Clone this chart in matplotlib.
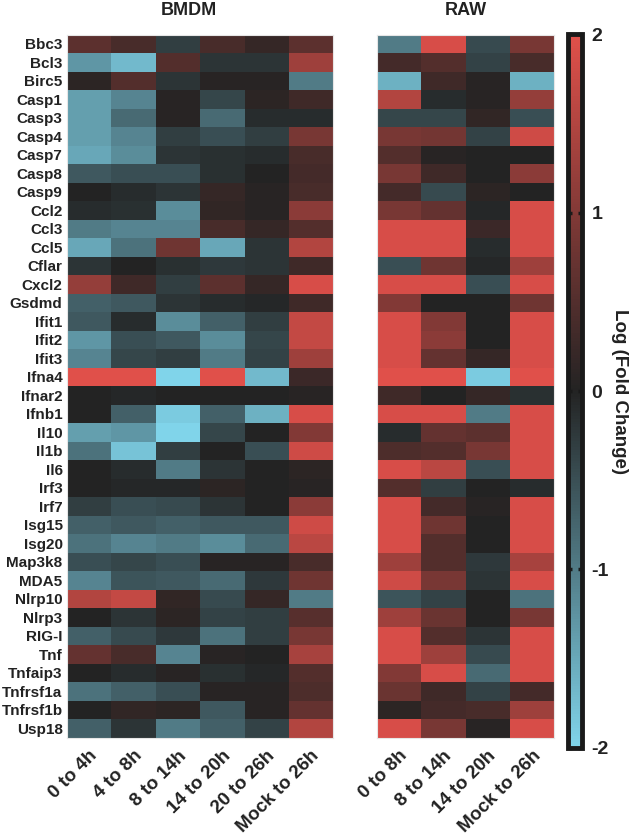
import numpy as np
import matplotlib
matplotlib.use("Agg")
import matplotlib.pyplot as plt
from matplotlib.colors import LinearSegmentedColormap

plt.rcParams['font.family'] = ['Liberation Sans', 'DejaVu Sans']
plt.rcParams['font.weight'] = 'bold'
plt.rcParams['axes.unicode_minus'] = False

genes = ["Bbc3", "Bcl3", "Birc5", "Casp1", "Casp3", "Casp4", "Casp7", "Casp8",
         "Casp9", "Ccl2", "Ccl3", "Ccl5", "Cflar", "Cxcl2", "Gsdmd", "Ifit1",
         "Ifit2", "Ifit3", "Ifna4", "Ifnar2", "Ifnb1", "Il10", "Il1b", "Il6",
         "Irf3", "Irf7", "Isg15", "Isg20", "Map3k8", "MDA5", "Nlrp10", "Nlrp3",
         "RIG-I", "Tnf", "Tnfaip3", "Tnfrsf1a", "Tnfrsf1b", "Usp18"]

bmdm_cols = ["0 to 4h", "4 to 8h", "8 to 14h", "14 to 20h", "20 to 26h", "Mock to 26h"]
raw_cols = ["0 to 8h", "8 to 14h", "14 to 20h", "Mock to 26h"]

# log fold change
bmdm = [
    [0.6, 0.4, -0.3, 0.4, 0.2, 0.6],
    [-1.3, -1.7, 0.5, -0.2, -0.2, 1.3],
    [0.1, 0.5, -0.2, 0.05, 0.05, -1.0],
    [-1.4, -1.1, 0.05, -0.4, 0.1, 0.3],
    [-1.4, -0.8, 0.05, -0.8, -0.1, -0.1],
    [-1.4, -1.1, -0.3, -0.5, -0.3, 0.9],
    [-1.5, -1.2, -0.2, -0.15, -0.1, 0.4],
    [-0.6, -0.5, -0.5, -0.15, 0.0, 0.35],
    [0.0, -0.1, -0.2, 0.2, 0.05, 0.4],
    [-0.1, -0.15, -1.2, 0.15, 0.05, 1.1],
    [-1.0, -1.1, -1.1, 0.4, 0.2, 0.5],
    [-1.5, -0.9, 0.8, -1.5, -0.2, 1.5],
    [-0.2, 0.0, -0.15, -0.25, -0.2, 0.3],
    [1.2, 0.3, -0.3, 0.6, 0.2, 1.9],
    [-0.7, -0.6, -0.2, -0.1, -0.05, 0.3],
    [-0.6, -0.1, -1.2, -0.7, -0.3, 1.7],
    [-1.3, -0.5, -0.6, -1.2, -0.4, 1.7],
    [-1.1, -0.4, -0.3, -1.0, -0.35, 1.3],
    [2.0, 2.0, -2.0, 2.0, -1.7, 0.25],
    [0.0, -0.05, 0.0, 0.0, 0.0, 0.05],
    [0.0, -0.7, -1.9, -0.7, -1.6, 1.9],
    [-1.4, -1.3, -2.0, -0.4, 0.0, 1.0],
    [-0.9, -1.8, -0.3, 0.0, -0.5, 1.8],
    [0.0, -0.1, -1.0, -0.2, 0.0, 0.1],
    [0.0, -0.05, -0.05, 0.1, 0.0, 0.05],
    [-0.3, -0.5, -0.45, -0.2, 0.0, 1.1],
    [-0.7, -0.6, -0.7, -0.6, -0.6, 1.8],
    [-0.9, -1.1, -1.0, -1.2, -0.8, 1.6],
    [-0.5, -0.4, -0.5, 0.05, 0.05, 0.4],
    [-1.1, -0.55, -0.6, -0.8, -0.25, 0.8],
    [1.5, 1.7, 0.15, -0.45, 0.2, -1.0],
    [0.0, -0.2, 0.1, -0.35, -0.3, 0.55],
    [-0.7, -0.45, -0.25, -0.9, -0.3, 0.9],
    [0.7, 0.4, -1.1, 0.05, 0.0, 1.4],
    [0.0, -0.1, 0.05, -0.15, -0.05, 0.5],
    [-0.9, -0.7, -0.5, 0.05, 0.05, 0.45],
    [0.0, 0.15, 0.1, -0.6, 0.05, 0.7],
    [-0.7, -0.2, -1.0, -0.7, -0.35, 1.5],
]

raw = [
    [-1.0, 1.9, -0.45, 0.9],
    [0.35, 0.5, -0.35, 0.4],
    [-1.6, 0.3, 0.05, -1.6],
    [1.5, -0.1, 0.05, 1.2],
    [-0.4, -0.4, 0.15, -0.5],
    [0.9, 0.85, -0.35, 1.8],
    [0.5, 0.05, 0.0, 0.0],
    [0.9, 0.3, 0.0, 1.1],
    [0.35, -0.45, 0.1, 0.0],
    [0.9, 0.7, -0.05, 1.9],
    [1.9, 1.9, 0.25, 1.9],
    [1.9, 1.9, -0.1, 1.9],
    [-0.5, 0.8, -0.05, 1.3],
    [1.9, 1.9, -0.5, 1.9],
    [1.0, 0.0, 0.0, 0.8],
    [1.9, 1.0, 0.0, 1.9],
    [1.9, 1.1, 0.0, 1.9],
    [1.9, 0.7, 0.2, 1.9],
    [2.0, 2.0, -1.9, 2.0],
    [0.3, 0.0, 0.2, -0.15],
    [1.9, 1.9, -1.0, 1.9],
    [-0.1, 0.7, 0.6, 1.9],
    [0.45, 0.5, 0.9, 1.9],
    [1.9, 1.6, -0.5, 1.9],
    [0.5, -0.3, 0.0, -0.1],
    [1.9, 0.35, 0.05, 1.9],
    [1.9, 0.8, 0.0, 1.9],
    [1.9, 0.5, 0.0, 1.9],
    [1.3, 0.5, -0.25, 1.4],
    [1.8, 0.9, -0.2, 1.9],
    [-0.55, -0.35, 0.0, -0.9],
    [1.3, 0.75, 0.0, 0.9],
    [1.9, 0.5, -0.2, 1.9],
    [1.9, 1.3, -0.45, 1.9],
    [1.0, 1.9, -0.8, 1.9],
    [0.75, 0.3, -0.35, 0.35],
    [0.1, 0.35, 0.4, 1.3],
    [1.9, 0.9, 0.05, 1.9],
]

cmap = LinearSegmentedColormap.from_list(
    "cyan_black_red", ["#80d4ea", "#232323", "#e0504a"])

fig = plt.figure(figsize=(6.36, 8.4), dpi=100)
ax1 = fig.add_axes([0.1049, 0.122, 0.4187, 0.8369])
ax2 = fig.add_axes([0.5923, 0.122, 0.2788, 0.8369])
cax = fig.add_axes([0.8925, 0.1100, 0.0220, 0.8490])

im = ax1.imshow(np.array(bmdm), cmap=cmap, vmin=-2, vmax=2,
                aspect="auto", interpolation="nearest")
ax2.imshow(np.array(raw), cmap=cmap, vmin=-2, vmax=2,
           aspect="auto", interpolation="nearest")

for ax, cols, title, tx in [(ax1, bmdm_cols, "BMDM", 0.46), (ax2, raw_cols, "RAW", 0.5)]:
    ax.set_xticks(range(len(cols)))
    ax.set_xticklabels(cols, rotation=45, ha="right", rotation_mode="anchor",
                       fontsize=13.5, fontweight="bold", color="#222222")
    ax.tick_params(length=0, pad=7)
    for s in ax.spines.values():
        s.set_color("#e6e6e6")
        s.set_linewidth(0.8)
    ax.set_title(title, fontsize=13, fontweight="bold", color="#222222",
                 pad=14, x=tx)

ax1.set_yticks(range(len(genes)))
ax1.set_yticklabels(genes, fontsize=11, fontweight="bold", color="#222222")
ax1.tick_params(axis="y", pad=3)
ax2.set_yticks([])

cb = fig.colorbar(im, cax=cax, ticks=[-2, -1, 0, 1, 2])
cb.outline.set_linewidth(3.5)
cb.outline.set_edgecolor("#1a1a1a")
cax.tick_params(axis="y", direction="in", length=3, width=2.5, color="#1a1a1a",
                left=True, right=True, labelsize=14, pad=7)
for t in cax.get_yticklabels():
    t.set_fontweight("bold")
    t.set_color("#222222")
cb.set_label("Log (Fold Change)", rotation=270, fontsize=13.5,
             fontweight="bold", color="#222222", labelpad=14)

fig.savefig("out.png", dpi=100)
